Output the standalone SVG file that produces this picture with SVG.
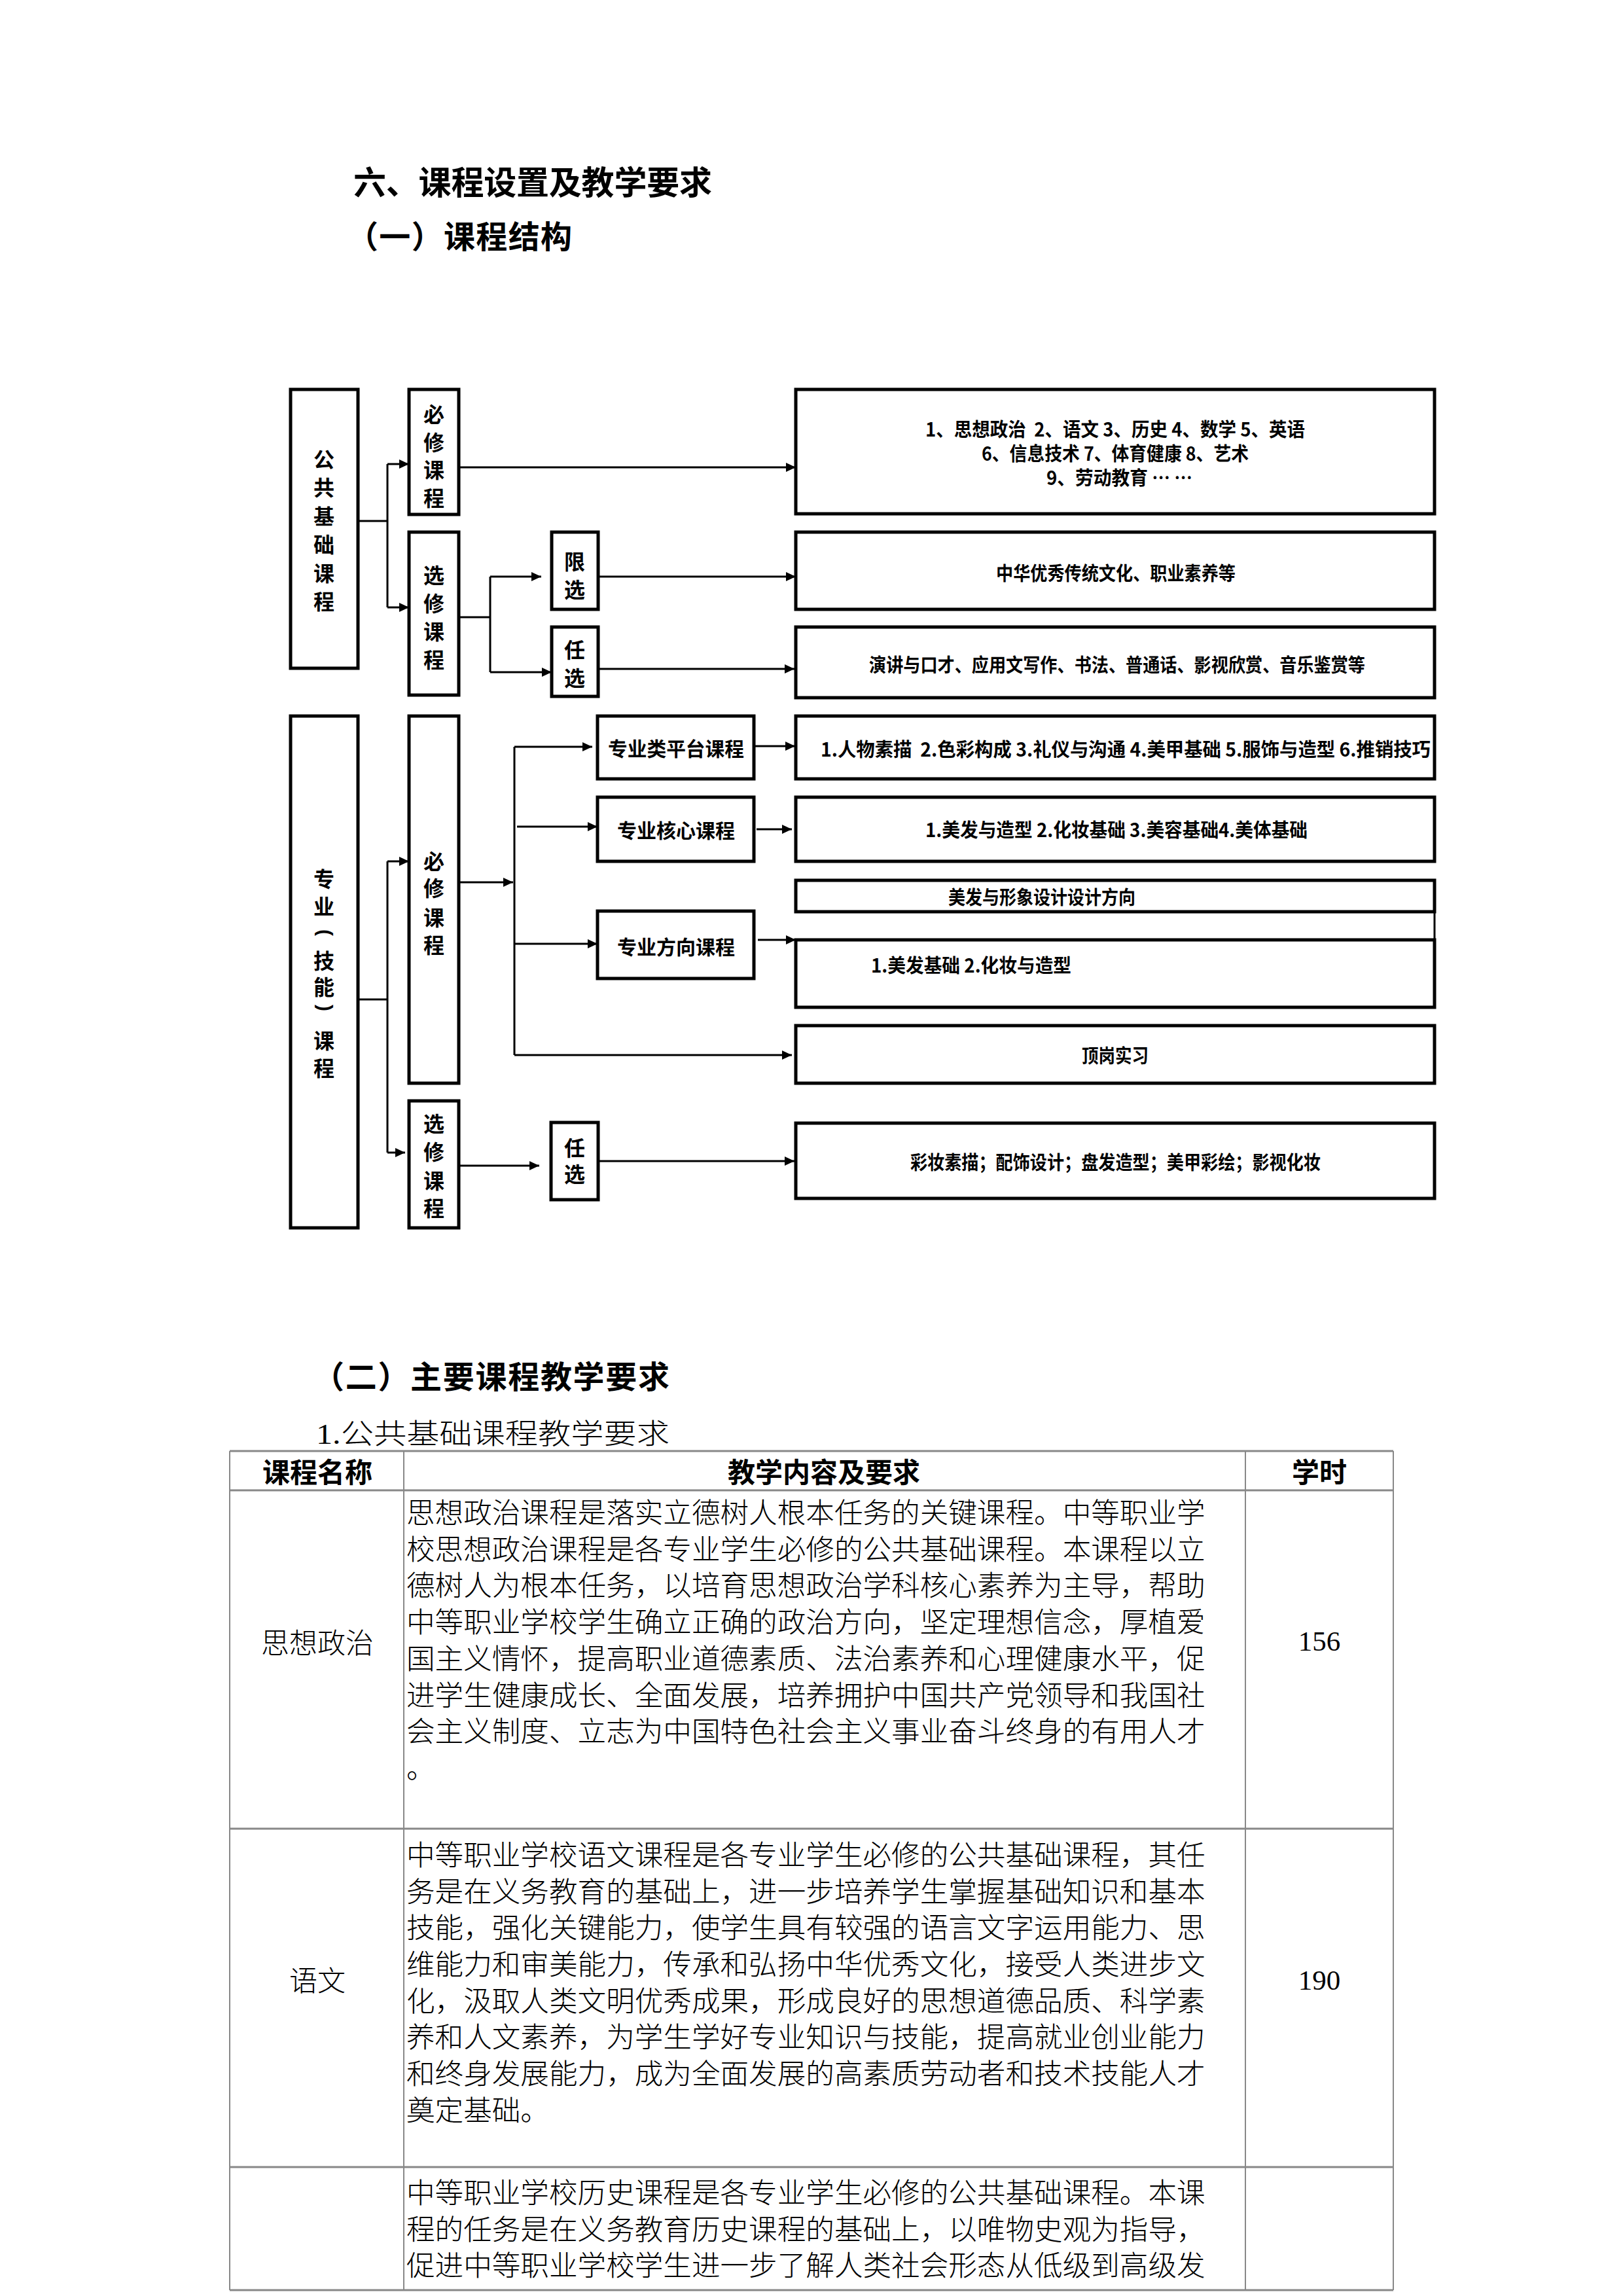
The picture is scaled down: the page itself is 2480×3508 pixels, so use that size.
<svg xmlns="http://www.w3.org/2000/svg" width="2480" height="3508" viewBox="0 0 2480 3508">
<style>
.box{fill:none;stroke:#000;stroke-width:5}
.ln{fill:none;stroke:#000;stroke-width:3}
.ar{fill:none;stroke:#000;stroke-width:3;marker-end:url(#ah)}
.h{font-family:"Noto Sans CJK SC",sans-serif;font-weight:bold;fill:#000}
.v{font-family:"Noto Sans CJK SC",sans-serif;font-size:32px;font-weight:bold;text-anchor:middle;fill:#000}
.p{font-family:"Liberation Sans",sans-serif;font-size:30px;font-weight:bold;text-anchor:middle;fill:#000}
.lb{font-family:"Noto Sans CJK SC",sans-serif;font-size:30px;font-weight:bold;fill:#000}
.rt{font-family:"Noto Sans CJK SC",sans-serif;font-size:29px;font-weight:bold;fill:#000}
.tl{stroke:#888;stroke-width:3}
.tv{stroke:#888;stroke-width:2}
.tt{font-family:"Liberation Serif","Noto Sans CJK SC",serif;font-size:43.6px;font-weight:300;fill:#000}
.th{font-family:"Noto Sans CJK SC",sans-serif;font-size:42px;font-weight:bold;text-anchor:middle;fill:#000}
.tc{font-family:"Liberation Serif","Noto Sans CJK SC",serif;font-size:43px;font-weight:300;text-anchor:middle;fill:#000}
</style>
<defs>
<marker id="ah" markerUnits="userSpaceOnUse" markerWidth="16" markerHeight="14" refX="15" refY="7" orient="auto"><path d="M0,0 L15,7 L0,14 z" fill="#000"/></marker>
</defs>

<g id="headings">
<text class="h" x="540" y="297" font-size="50" textLength="548">六、课程设置及教学要求</text>
<text class="h" x="530" y="379" font-size="48" textLength="344">（一）课程结构</text>
<text class="h" x="478" y="2121" font-size="48" textLength="545">（二）主要课程教学要求</text>
<text class="tt" x="483" y="2206" font-size="50" textLength="540" lengthAdjust="spacingAndGlyphs">1.公共基础课程教学要求</text>
</g>

<g id="connectors">
<path class="ln" d="M547,796 H592 M592,709 V928"/>
<path class="ar" d="M592,709 H625"/>
<path class="ar" d="M592,928 H625"/>
<path class="ar" d="M701,714 H1216"/>
<path class="ln" d="M701,943 H749 M749,881 V1027"/>
<path class="ar" d="M749,881 H827"/>
<path class="ar" d="M749,1027 H843"/>
<path class="ar" d="M914,881 H1216"/>
<path class="ar" d="M914,1022 H1214"/>
<path class="ln" d="M547,1527 H592 M592,1316 V1761"/>
<path class="ar" d="M592,1316 H625"/>
<path class="ar" d="M592,1761 H619"/>
<path class="ar" d="M701,1348 H784"/>
<path class="ln" d="M786,1141 V1612"/>
<path class="ar" d="M786,1141 H905"/>
<path class="ar" d="M790,1263 H913"/>
<path class="ar" d="M786,1442 H913"/>
<path class="ar" d="M786,1612 H1210"/>
<path class="ar" d="M1154,1140 H1215"/>
<path class="ar" d="M1156,1267 H1210"/>
<path class="ar" d="M1158,1436 H1216"/>
<path class="ar" d="M701,1781 H824"/>
<path class="ar" d="M914,1774 H1214"/>
<path class="ln" d="M2192,1393 V1436"/>
</g>

<g id="n-gonggong">
<rect class="box" x="444" y="595" width="103" height="426"/>
<text class="v"><tspan x="495" y="714">公</tspan><tspan x="495" y="757">共</tspan><tspan x="495" y="801">基</tspan><tspan x="495" y="844">础</tspan><tspan x="495" y="888">课</tspan><tspan x="495" y="931">程</tspan></text>
</g>
<g id="n-bixiu1">
<rect class="box" x="625" y="595" width="76" height="191"/>
<text class="v"><tspan x="663" y="645">必</tspan><tspan x="663" y="688">修</tspan><tspan x="663" y="730">课</tspan><tspan x="663" y="773">程</tspan></text>
</g>
<g id="n-xuanxiu1">
<rect class="box" x="625" y="813" width="76" height="249"/>
<text class="v"><tspan x="663" y="891">选</tspan><tspan x="663" y="934">修</tspan><tspan x="663" y="977">课</tspan><tspan x="663" y="1020">程</tspan></text>
</g>
<g id="n-xianxuan">
<rect class="box" x="843" y="813" width="71" height="118"/>
<text class="v"><tspan x="878" y="870">限</tspan><tspan x="878" y="913">选</tspan></text>
</g>
<g id="n-renxuan1">
<rect class="box" x="843" y="958" width="71" height="106"/>
<text class="v"><tspan x="878" y="1005">任</tspan><tspan x="878" y="1048">选</tspan></text>
</g>
<g id="n-r1">
<rect class="box" x="1216" y="595" width="976" height="190"/>
<text class="rt" xml:space="preserve" x="1414" y="667" textLength="580" lengthAdjust="spacingAndGlyphs">1、思想政治  2、语文 3、历史 4、数学 5、英语</text>
<text class="rt" x="1500" y="704" textLength="408" lengthAdjust="spacingAndGlyphs">6、信息技术 7、体育健康 8、艺术</text>
<text class="rt" x="1599" y="741" textLength="223" lengthAdjust="spacingAndGlyphs">9、劳动教育 … …</text>
</g>
<g id="n-r2">
<rect class="box" x="1216" y="813" width="976" height="118"/>
<text class="rt" x="1522" y="887" textLength="366" lengthAdjust="spacingAndGlyphs">中华优秀传统文化、职业素养等</text>
</g>
<g id="n-r3">
<rect class="box" x="1216" y="958" width="976" height="108"/>
<text class="rt" x="1328" y="1027" textLength="758" lengthAdjust="spacingAndGlyphs">演讲与口才、应用文写作、书法、普通话、影视欣赏、音乐鉴赏等</text>
</g>

<g id="n-zhuanye">
<rect class="box" x="444" y="1094" width="103" height="782"/>
<text class="v"><tspan x="495" y="1355">专</tspan><tspan x="495" y="1397">业</tspan></text>
<text class="p" x="495" y="1433" transform="rotate(90 495 1425)">(</text>
<text class="v"><tspan x="495" y="1480">技</tspan><tspan x="495" y="1520">能</tspan></text>
<text class="p" x="495" y="1548" transform="rotate(90 495 1540)">)</text>
<text class="v"><tspan x="495" y="1602">课</tspan><tspan x="495" y="1644">程</tspan></text>
</g>
<g id="n-bixiu2">
<rect class="box" x="625" y="1094" width="76" height="561"/>
<text class="v"><tspan x="663" y="1328">必</tspan><tspan x="663" y="1369">修</tspan><tspan x="663" y="1414">课</tspan><tspan x="663" y="1456">程</tspan></text>
</g>
<g id="n-xuanxiu2">
<rect class="box" x="625" y="1682" width="76" height="194"/>
<text class="v"><tspan x="663" y="1729">选</tspan><tspan x="663" y="1772">修</tspan><tspan x="663" y="1816">课</tspan><tspan x="663" y="1858">程</tspan></text>
</g>
<g id="n-pingtai">
<rect class="box" x="913" y="1094" width="239" height="96"/>
<text class="lb" x="929" y="1155" textLength="208" lengthAdjust="spacingAndGlyphs">专业类平台课程</text>
</g>
<g id="n-hexin">
<rect class="box" x="913" y="1218" width="239" height="98"/>
<text class="lb" x="943" y="1280" textLength="180" lengthAdjust="spacingAndGlyphs">专业核心课程</text>
</g>
<g id="n-fangxiang">
<rect class="box" x="913" y="1392" width="239" height="103"/>
<text class="lb" x="943" y="1458" textLength="180" lengthAdjust="spacingAndGlyphs">专业方向课程</text>
</g>
<g id="n-renxuan2">
<rect class="box" x="842" y="1715" width="72" height="118"/>
<text class="v"><tspan x="878" y="1766">任</tspan><tspan x="878" y="1806">选</tspan></text>
</g>
<g id="n-r4">
<rect class="box" x="1216" y="1094" width="976" height="96"/>
<text class="rt" xml:space="preserve" x="1254" y="1156" textLength="932" lengthAdjust="spacingAndGlyphs">1.人物素描  2.色彩构成 3.礼仪与沟通 4.美甲基础 5.服饰与造型 6.推销技巧</text>
</g>
<g id="n-r5">
<rect class="box" x="1216" y="1218" width="976" height="98"/>
<text class="rt" x="1414" y="1279" textLength="584" lengthAdjust="spacingAndGlyphs">1.美发与造型 2.化妆基础 3.美容基础4.美体基础</text>
</g>
<g id="n-r6">
<rect class="box" x="1216" y="1345" width="976" height="48"/>
<text class="rt" x="1449" y="1382" textLength="286" lengthAdjust="spacingAndGlyphs">美发与形象设计设计方向</text>
</g>
<g id="n-r7">
<rect class="box" x="1216" y="1436" width="976" height="103"/>
<text class="rt" x="1331" y="1486" textLength="306" lengthAdjust="spacingAndGlyphs">1.美发基础 2.化妆与造型</text>
</g>
<g id="n-r8">
<rect class="box" x="1216" y="1567" width="976" height="88"/>
<text class="rt" x="1653" y="1624" textLength="102" lengthAdjust="spacingAndGlyphs">顶岗实习</text>
</g>
<g id="n-r9">
<rect class="box" x="1216" y="1716" width="976" height="115"/>
<text class="rt" x="1391" y="1787" textLength="627" lengthAdjust="spacingAndGlyphs">彩妆素描；配饰设计；盘发造型；美甲彩绘；影视化妆</text>
</g>

<g id="table">
<line class="tl" x1="351" y1="2217" x2="2129" y2="2217"/>
<line class="tl" x1="351" y1="2277" x2="2129" y2="2277"/>
<line class="tl" x1="351" y1="2794" x2="2129" y2="2794"/>
<line class="tl" x1="351" y1="3311" x2="2129" y2="3311"/>
<line class="tl" x1="351" y1="3499" x2="2129" y2="3499"/>
<line class="tv" x1="351" y1="2217" x2="351" y2="3499"/>
<line class="tv" x1="617" y1="2217" x2="617" y2="3499"/>
<line class="tv" x1="1903" y1="2217" x2="1903" y2="3499"/>
<line class="tv" x1="2129" y1="2217" x2="2129" y2="3499"/>
<text class="th" x="485" y="2265">课程名称</text>
<text class="th" x="1259" y="2265">教学内容及要求</text>
<text class="th" x="2016" y="2265">学时</text>
<text class="tc" x="485" y="2526">思想政治</text>
<text class="tc" x="2016" y="2522">156</text>
<text class="tt" x="621" y="2327">思想政治课程是落实立德树人根本任务的关键课程。中等职业学</text>
<text class="tt" x="621" y="2383">校思想政治课程是各专业学生必修的公共基础课程。本课程以立</text>
<text class="tt" x="621" y="2438">德树人为根本任务，以培育思想政治学科核心素养为主导，帮助</text>
<text class="tt" x="621" y="2494">中等职业学校学生确立正确的政治方向，坚定理想信念，厚植爱</text>
<text class="tt" x="621" y="2550">国主义情怀，提高职业道德素质、法治素养和心理健康水平，促</text>
<text class="tt" x="621" y="2606">进学生健康成长、全面发展，培养拥护中国共产党领导和我国社</text>
<text class="tt" x="621" y="2661">会主义制度、立志为中国特色社会主义事业奋斗终身的有用人才</text>
<text class="tt" x="621" y="2717">。</text>
<text class="tc" x="485" y="3042">语文</text>
<text class="tc" x="2016" y="3040">190</text>
<text class="tt" x="621" y="2850">中等职业学校语文课程是各专业学生必修的公共基础课程，其任</text>
<text class="tt" x="621" y="2906">务是在义务教育的基础上，进一步培养学生掌握基础知识和基本</text>
<text class="tt" x="621" y="2961">技能，强化关键能力，使学生具有较强的语言文字运用能力、思</text>
<text class="tt" x="621" y="3017">维能力和审美能力，传承和弘扬中华优秀文化，接受人类进步文</text>
<text class="tt" x="621" y="3073">化，汲取人类文明优秀成果，形成良好的思想道德品质、科学素</text>
<text class="tt" x="621" y="3128">养和人文素养，为学生学好专业知识与技能，提高就业创业能力</text>
<text class="tt" x="621" y="3184">和终身发展能力，成为全面发展的高素质劳动者和技术技能人才</text>
<text class="tt" x="621" y="3240">奠定基础。</text>
<text class="tt" x="621" y="3366">中等职业学校历史课程是各专业学生必修的公共基础课程。本课</text>
<text class="tt" x="621" y="3422">程的任务是在义务教育历史课程的基础上，以唯物史观为指导，</text>
<text class="tt" x="621" y="3477">促进中等职业学校学生进一步了解人类社会形态从低级到高级发</text>
</g>
</svg>
